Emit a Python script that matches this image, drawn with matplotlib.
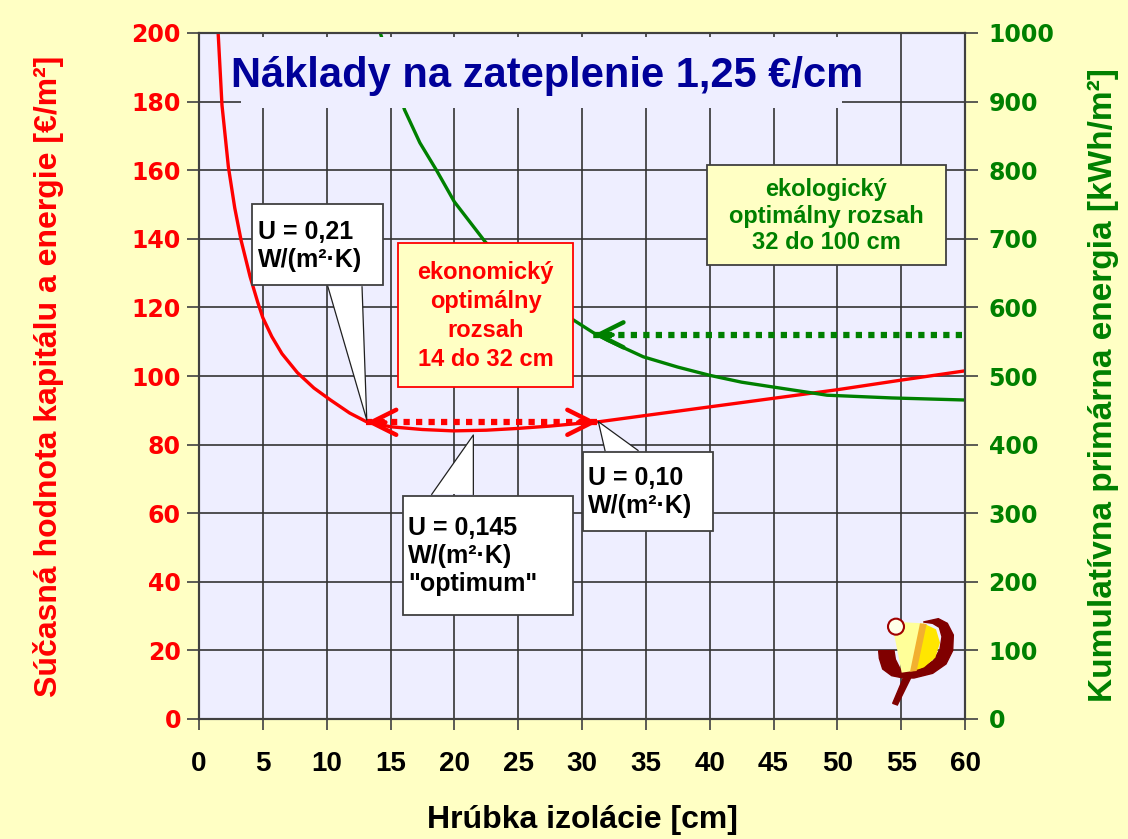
import matplotlib
matplotlib.use("Agg")
import matplotlib.pyplot as plt
from matplotlib.patches import Rectangle, Polygon, Circle
import numpy as np

# ---------------- data ----------------
cost_x = [1.5, 1.8, 2.3, 2.8, 3.3, 4.0, 4.6, 5.0, 5.7, 6.5, 7.7, 9.0, 10.3, 11.8, 13.1,
          15.0, 17.5, 19.9, 22.5, 24.9, 27.5, 30.1, 31.4, 35.0, 40.0, 45.0, 50.0, 55.0, 60.0]
cost_y = [200, 179, 161, 149, 139.5, 129, 121.5, 117, 111.5, 106.5, 101, 96.5, 93, 89.2, 86.7,
          85.2, 84.4, 84.0, 84.2, 84.7, 85.4, 86.3, 86.7, 88.5, 91.0, 93.5, 96.0, 98.8, 101.5]

energy_x = [14.2, 15.0, 16.1, 17.3, 18.6, 20.0, 22.4, 25.0, 27.5, 29.3, 30.9, 32.0, 34.8,
            37.5, 40.0, 42.5, 45.3, 49.2, 54.3, 60.0]
energy_y = [1000, 953, 888, 840, 800, 754, 696, 642, 605, 582, 563, 552, 528,
            513, 501, 491, 483, 472, 468, 465]

x_ticks = list(range(0, 61, 5))
yl_ticks = list(range(0, 201, 20))
yr_ticks = list(range(0, 1001, 100))

econ_range = (13.1, 31.2)     # red double arrow extent [cm]
econ_level = 86.5             # on left axis
eco_arrow = (59.8, 30.9)      # green arrow from -> to [cm]
eco_level = 560               # on right axis

title = "Náklady na zateplenie 1,25 €/cm"
xlabel = "Hrúbka izolácie [cm]"
ylabel_l = "Súčasná hodnota kapitálu a energie [€/m²]"
ylabel_r = "Kumulatívna primárna energia [kWh/m²]"

# ---------------- style ----------------
RED = "#FF0000"
GREEN = "#008000"
NAVY = "#000099"
FIGBG = "#FFFFC4"
AXBG = "#EEEEFF"
GRID = "#333333"
BOXY = "#FFFFC4"
FONT = "Liberation Sans"

plt.rcParams['font.family'] = [FONT, 'DejaVu Sans']
plt.rcParams['font.weight'] = 'bold'

fig = plt.figure(figsize=(11.28, 8.39), dpi=100, facecolor=FIGBG)
ax = fig.add_axes([199/1128, 1-719/839, 766/1128, 686/839])
ax.set_facecolor(AXBG)
ax.set_axisbelow(True)
ax2 = ax.twinx()

ax.set_xlim(0, 60)
ax.set_ylim(0, 200)
ax2.set_ylim(0, 1000)
ax.set_xticks(x_ticks)
ax.set_yticks(yl_ticks)
ax2.set_yticks(yr_ticks)
ax.grid(True, color=GRID, lw=1.2)

for a in (ax, ax2):
    for s in a.spines.values():
        s.set_color("#404040")
        s.set_linewidth(1.5)

ax.tick_params(axis='x', direction='out', length=8, width=1.2, color="#404040",
               pad=15, labelsize=20, labelcolor='black')
ax.tick_params(axis='y', direction='out', length=9, width=1.2, color="#404040",
               pad=4, labelcolor=RED)
ax2.tick_params(axis='y', direction='out', length=9, width=1.2, color="#404040",
                pad=8, labelcolor=GREEN)
for lab in ax.get_yticklabels():
    lab.set_fontfamily('DejaVu Sans'); lab.set_fontsize(17); lab.set_fontweight('bold')
for lab in ax2.get_yticklabels():
    lab.set_fontfamily('DejaVu Sans'); lab.set_fontsize(17); lab.set_fontweight('bold')
for lab in ax.get_xticklabels():
    lab.set_fontweight('bold')

ax.set_xlabel(xlabel, fontsize=23, fontweight='bold', color='black')
ax.xaxis.set_label_coords(0.5, -0.126)
ax.set_ylabel(ylabel_l, fontsize=23, fontweight='bold', color=RED)
ax.yaxis.set_label_coords(-0.176, 0.5)
ax2.set_ylabel(ylabel_r, fontsize=24, fontweight='bold', color=GREEN)
ax2.yaxis.set_label_coords(1.160, 0.487)

# curves
ax.plot(cost_x, cost_y, color=RED, lw=2.4, zorder=3, clip_on=True)
ax2.plot(energy_x, energy_y, color=GREEN, lw=2.4, zorder=2)

T = ax.transData  # left-axis data coords, drawn on top axes

# title box
ax2.add_patch(Rectangle((3.3, 178.1), 47.1, 20.6, transform=T, facecolor=AXBG,
                        edgecolor='none', zorder=5))
ax2.text(27.26, 184.3, title, transform=T, ha='center', va='baseline',
         fontsize=30, fontweight='bold', color=NAVY, zorder=6)

def callout(x0, y0, x1, y1, wedge, text, tx, ty, ha='left', fc='white', ec="#404040",
            color='black', size=18, ls=1.2):
    ax2.add_patch(Rectangle((x0, y0), x1-x0, y1-y0, transform=T, facecolor=fc,
                            edgecolor=ec, lw=1.3, zorder=7))
    if wedge is not None:
        (bx0, by), (bx1, _), (px, py) = wedge
        ax2.add_patch(Polygon([(bx0, by), (bx1, by), (px, py)], closed=True, transform=T,
                              facecolor=fc, edgecolor='none', zorder=7.5))
        ax2.plot([bx0, px, bx1], [by, py, by], transform=T, color="#202020", lw=0.9,
                 zorder=7.6)
    ax2.text(tx, ty, text, transform=T, ha=ha, va='center', fontsize=size,
             fontweight='bold', color=color, linespacing=ls, zorder=8)

callout(4.15, 126.5, 14.41, 150.1,
        [(10.1, 126.0), (12.77, 126.0), (13.14, 87.2)],
        "U = 0,21\nW/(m²·K)", 4.6, 138.0)
callout(15.98, 30.3, 29.3, 65.0,
        [(18.23, 65.5), (21.49, 65.5), (21.49, 82.8)],
        "U = 0,145\nW/(m²·K)\n\"optimum\"", 16.4, 47.6)
callout(30.07, 54.8, 40.26, 77.8,
        [(31.8, 78.3), (34.39, 78.3), (31.28, 86.7)],
        "U = 0,10\nW/(m²·K)", 30.45, 66.2)
callout(15.59, 96.8, 29.3, 138.8, None,
        "ekonomický\noptimálny\nrozsah\n14 do 32 cm", 22.45, 117.6, ha='center',
        fc=BOXY, ec=RED, color=RED, size=17, ls=1.33)
callout(39.79, 132.4, 58.51, 161.5, None,
        "ekologický\noptimálny rozsah\n32 do 100 cm", 49.15, 146.6, ha='center',
        fc=BOXY, ec="#404040", color=GREEN, size=17, ls=1.2)

# dotted range arrows
ax2.plot(list(econ_range), [econ_level, econ_level], transform=T, color=RED, lw=4.5,
         ls=(0, (1, 1)), zorder=6)
for tip, back in ((econ_range[0], econ_range[0] + 1.5), (econ_range[1], econ_range[1] - 1.5)):
    ax2.annotate('', xy=(tip, econ_level), xytext=(back, econ_level), xycoords=T,
                 textcoords=T,
                 arrowprops=dict(arrowstyle='->', lw=3.2, color=RED, mutation_scale=45,
                                 shrinkA=0, shrinkB=0), zorder=6)

ax2.plot(list(eco_arrow), [eco_level, eco_level], color=GREEN, lw=4.5,
         ls=(0, (1, 1)), zorder=6)
ax2.annotate('', xy=(eco_arrow[1], eco_level), xytext=(eco_arrow[1] + 1.5, eco_level),
             arrowprops=dict(arrowstyle='->', lw=3.2, color=GREEN, mutation_scale=45,
                             shrinkA=0, shrinkB=0), zorder=6)

# small logo (decoration)
lg = fig.add_axes([860/1128, 1-720/839, 120/1128, 130/839])
lg.set_xlim(0, 360); lg.set_ylim(390, 0); lg.axis('off')
lg.patch.set_alpha(0)
maroon = "#800000"
outer = [(190, 96), (235, 86), (262, 100), (280, 135), (278, 182), (258, 222), (218, 250),
         (162, 264), (152, 264), (112, 345), (98, 340), (130, 264), (95, 257), (68, 237),
         (58, 205), (56, 182), (102, 182), (106, 208), (120, 236), (142, 244), (185, 236),
         (220, 212), (240, 178), (246, 140), (238, 112), (218, 100)]
lg.add_patch(Polygon(outer, closed=True, facecolor=maroon, edgecolor=maroon, lw=1))
lg.add_patch(Polygon([(95, 95), (190, 100), (160, 243), (125, 248)], closed=True,
                     facecolor="#FFFF99", edgecolor='none'))
lg.add_patch(Polygon([(190, 100), (228, 118), (240, 158), (226, 203), (192, 232),
                      (160, 243)], closed=True, facecolor="#FFE600", edgecolor='none'))
lg.add_patch(Polygon([(180, 100), (200, 102), (170, 243), (150, 245)], closed=True,
                     facecolor="#F2B030", edgecolor='none'))
lg.add_patch(Circle((108, 110), 24, facecolor="#FFFFE8", edgecolor="#A00000", lw=1.5))

fig.savefig("out.png", dpi=100, facecolor=FIGBG)
